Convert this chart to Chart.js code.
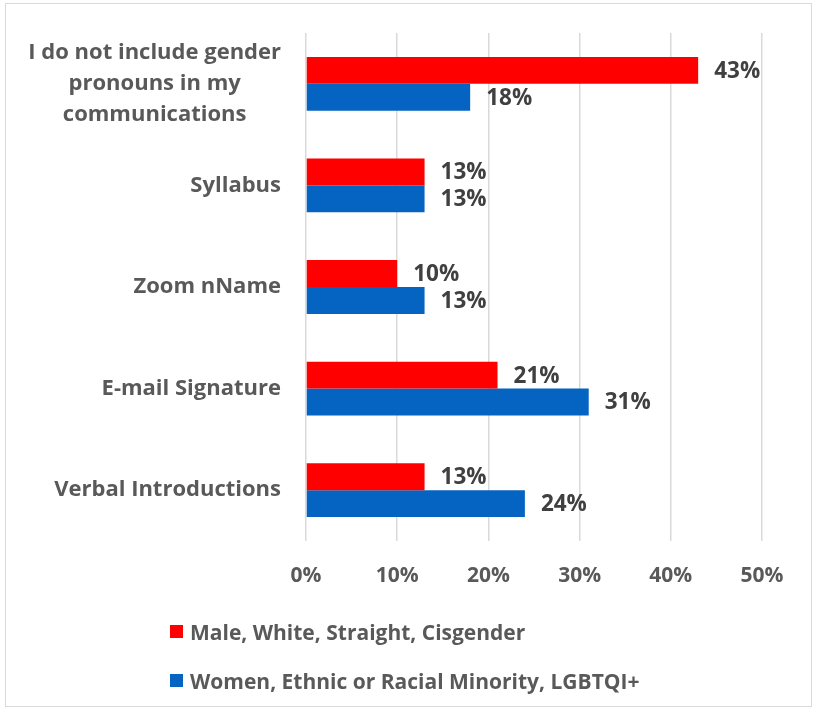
<!DOCTYPE html>
<html>
<head>
<meta charset="utf-8">
<title>Gender pronouns in communications</title>
<script src="https://cdn.jsdelivr.net/npm/chart.js@4.4.0/dist/chart.umd.min.js"></script>
<style>
  html, body { margin: 0; padding: 0; background: #fff; }
  #wrap { position: relative; width: 816px; height: 712px; }
  #frame { position: absolute; left: 5px; top: 3px; width: 805px; height: 702px; border: 1px solid #d9d9d9; pointer-events: none; }
  #legend { position: absolute; left: 170px; top: 615px; font: bold 21px 'Open Sans', sans-serif; color: #595959; }
  #legend .item { display: flex; align-items: center; height: 33px; margin-bottom: 16px; white-space: nowrap; }
  #legend .box { width: 13px; height: 13px; margin-right: 7px; }
</style>
</head>
<body>
<div id="wrap">
  <canvas id="chart" width="816" height="712"></canvas>
  <div id="frame"></div>
  <div id="legend"></div>
</div>
<script>
// categories, top to bottom
const categories = [
    ['I do not include gender', 'pronouns in my', 'communications'],
    ['Syllabus'],
    ['Zoom nName'],
    ['E-mail Signature'],
    ['Verbal Introductions']
];
const seriesNames = ['Male, White, Straight, Cisgender', 'Women, Ethnic or Racial Minority, LGBTQI+'];
const majorityValues = [43, 13, 10, 21, 13];
const minorityValues = [18, 13, 13, 31, 24];
const seriesColors = ['#ff0000', '#0563c1'];
const xTicks = [0, 10, 20, 30, 40, 50];

const FONT = "'Open Sans', sans-serif";

// category labels: block right-aligned against the axis, lines centred inside the block
const categoryLabels = {
    id: 'categoryLabels',
    afterDraw(chart) {
        const ctx = chart.ctx;
        const y = chart.scales.y;
        const right = chart.chartArea.left - 25;
        const lineH = 31;
        ctx.save();
        ctx.font = 'bold 22px ' + FONT;
        ctx.fillStyle = '#595959';
        ctx.textAlign = 'center';
        ctx.textBaseline = 'middle';
        categories.forEach((lines, i) => {
            const cy = y.getPixelForValue(i);
            const w = Math.max(...lines.map(l => ctx.measureText(l).width));
            const cx = right - w / 2;
            lines.forEach((l, k) => {
                ctx.fillText(l, cx, cy + (k - (lines.length - 1) / 2) * lineH);
            });
        });
        ctx.restore();
    }
};

// value labels just past the end of each bar
const valueLabels = {
    id: 'valueLabels',
    afterDatasetsDraw(chart) {
        const ctx = chart.ctx;
        ctx.save();
        ctx.font = 'bold 22.5px ' + FONT;
        ctx.fillStyle = '#404040';
        ctx.textAlign = 'left';
        ctx.textBaseline = 'middle';
        chart.data.datasets.forEach((ds, di) => {
            chart.getDatasetMeta(di).data.forEach((bar, i) => {
                ctx.fillText(ds.data[i] + '%', bar.x + 16, bar.y + 1);
            });
        });
        ctx.restore();
    }
};

const ctx = document.getElementById('chart').getContext('2d');
const chart = new Chart(ctx, {
    type: 'bar',
    data: {
        labels: categories,
        datasets: [
            { label: seriesNames[0], data: majorityValues, backgroundColor: seriesColors[0] },
            { label: seriesNames[1], data: minorityValues, backgroundColor: seriesColors[1] }
        ]
    },
    options: {
        indexAxis: 'y',
        responsive: false,
        animation: false,
        events: [],
        categoryPercentage: 0.53,
        barPercentage: 1.0,
        layout: { padding: { left: 0, top: 33, right: 54, bottom: 111 } },
        plugins: {
            legend: { display: false },
            tooltip: { enabled: false }
        },
        scales: {
            x: {
                min: 0,
                max: 50,
                afterBuildTicks: scale => { scale.ticks = xTicks.map(v => ({ value: v })); },
                afterFit: scale => { scale.height = 60; },
                grid: { color: '#d9d9d9', lineWidth: 1.5, drawTicks: false },
                border: { display: false },
                ticks: {
                    padding: 22,
                    color: '#595959',
                    font: { family: FONT, size: 21, weight: 'bold' },
                    callback: v => v + '%'
                }
            },
            y: {
                afterFit: scale => { scale.width = 306; },
                grid: { display: false },
                border: { display: false },
                ticks: { display: false }
            }
        }
    },
    plugins: [categoryLabels, valueLabels]
});

// legend, one series per row
const legend = document.getElementById('legend');
seriesNames.forEach((name, i) => {
    const item = document.createElement('div');
    item.className = 'item';
    const box = document.createElement('span');
    box.className = 'box';
    box.style.background = seriesColors[i];
    const text = document.createElement('span');
    text.textContent = name;
    item.appendChild(box);
    item.appendChild(text);
    legend.appendChild(item);
});
</script>
</body>
</html>
